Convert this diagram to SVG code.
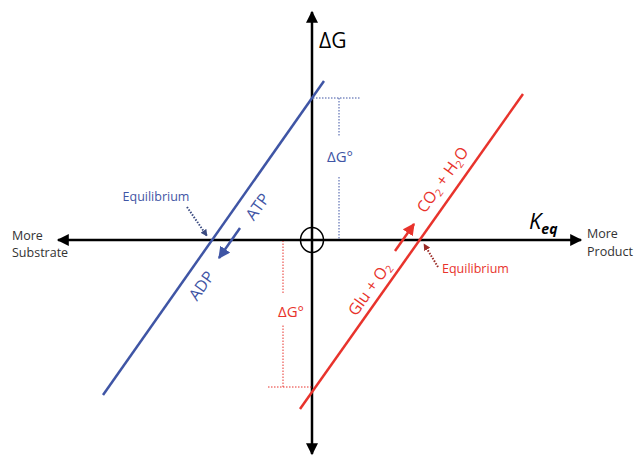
<svg xmlns="http://www.w3.org/2000/svg" width="636" height="456" viewBox="0 0 636 456">
<defs>
<marker id="axh" viewBox="0 0 10 10" refX="9" refY="5" markerWidth="14" markerHeight="12" markerUnits="userSpaceOnUse" orient="auto"><path d="M0,0 L10,5 L0,10 z" fill="#000"/></marker>
<marker id="bh" viewBox="0 0 10 10" refX="9" refY="5" markerWidth="12" markerHeight="12" markerUnits="userSpaceOnUse" orient="auto"><path d="M0,0 L10,5 L0,10 z" fill="#3f55a5"/></marker>
<marker id="rh" viewBox="0 0 10 10" refX="9" refY="5" markerWidth="12" markerHeight="12" markerUnits="userSpaceOnUse" orient="auto"><path d="M0,0 L10,5 L0,10 z" fill="#e8332c"/></marker>
<marker id="bdh" viewBox="0 0 10 10" refX="9" refY="5" markerWidth="7" markerHeight="7" markerUnits="userSpaceOnUse" orient="auto"><path d="M0,0 L10,5 L0,10 z" fill="#3a4a80"/></marker>
<marker id="rdh" viewBox="0 0 10 10" refX="9" refY="5" markerWidth="7" markerHeight="7" markerUnits="userSpaceOnUse" orient="auto"><path d="M0,0 L10,5 L0,10 z" fill="#9a2a25"/></marker>
</defs>
<style>
text{font-family:"Open Sans","Liberation Sans",sans-serif}
.ax{stroke:#000;stroke-width:2.5;fill:none}
.blue{stroke:#3f55a5;stroke-width:2.5;fill:none}
.red{stroke:#e8332c;stroke-width:2.5;fill:none}
.bdot{stroke:#3f55a5;stroke-width:1;stroke-dasharray:1.5 1.5;fill:none}
.rdot{stroke:#e8332c;stroke-width:1;stroke-dasharray:1.5 1.5;fill:none}
.bt{fill:#3f55a5}
.rt{fill:#e8332c}
.lbl{fill:#333;font-size:12.5px}
</style>
<g id="connectors">
<line class="ax" x1="312" y1="240" x2="312" y2="12" marker-end="url(#axh)"/>
<line class="ax" x1="312" y1="240" x2="312" y2="454" marker-end="url(#axh)"/>
<line class="ax" x1="312" y1="240" x2="581" y2="240" marker-end="url(#axh)"/>
<line class="ax" x1="312" y1="240" x2="58" y2="240" marker-end="url(#axh)"/>
<line class="blue" x1="103" y1="395" x2="324" y2="81"/>
<line class="red" x1="300" y1="409" x2="523" y2="94"/>
<line class="blue" x1="240" y1="228" x2="219" y2="258" marker-end="url(#bh)"/>
<line class="red" x1="395" y1="251" x2="414" y2="224" marker-end="url(#rh)"/>
<line stroke="#3a4a80" stroke-width="2" stroke-dasharray="1.5 1.5" x1="187" y1="207" x2="207" y2="236" marker-end="url(#bdh)"/>
<line stroke="#9a2a25" stroke-width="2" stroke-dasharray="1.5 1.5" x1="438" y1="267" x2="424" y2="244" marker-end="url(#rdh)"/>
<path class="bdot" d="M313,98 H360 M339,98 V137 M339,177 V240"/>
<path class="rdot" d="M268,387 H312 M283,387 V325 M283,293 V241"/>
</g>
<g id="origin"><ellipse cx="312" cy="240" rx="11.5" ry="12.5" fill="none" stroke="#000" stroke-width="1.5"/></g>
<g id="dg-axis"><text x="319" y="48" font-size="21" fill="#000">ΔG</text></g>
<g id="keq"><text x="529" y="229" font-size="22" font-style="italic" fill="#000">K<tspan font-size="14" font-weight="bold" dy="5">eq</tspan></text></g>
<g id="more-substrate"><text class="lbl" x="12" y="240">More</text><text class="lbl" x="12" y="257">Substrate</text></g>
<g id="more-product"><text class="lbl" x="587" y="238">More</text><text class="lbl" x="587" y="256">Product</text></g>
<g id="blue-dg"><text class="bt" x="340" y="162" font-size="15" text-anchor="middle">ΔG°</text></g>
<g id="red-dg"><text class="rt" x="291" y="317" font-size="15" text-anchor="middle">ΔG°</text></g>
<g id="blue-eq"><text class="bt" x="156" y="201" font-size="12.5" text-anchor="middle">Equilibrium</text></g>
<g id="red-eq"><text class="rt" x="442" y="273" font-size="12.5">Equilibrium</text></g>
<g id="atp"><text class="bt" font-size="16" text-anchor="middle" transform="translate(258,207) rotate(-54.2)" y="5">ATP</text></g>
<g id="adp"><text class="bt" font-size="16" text-anchor="middle" transform="translate(202,286) rotate(-54.2)" y="5">ADP</text></g>
<g id="co2"><text class="rt" font-size="16" text-anchor="middle" transform="translate(443,180) rotate(-54.5)" y="5">CO<tspan font-size="10.5" dy="3">2</tspan><tspan dy="-3"> + H</tspan><tspan font-size="10.5" dy="3">2</tspan><tspan dy="-3">O</tspan></text></g>
<g id="glu"><text class="rt" font-size="16" text-anchor="middle" transform="translate(370,289) rotate(-54.5)" y="5">Glu + O<tspan font-size="10.5" dy="3">2</tspan></text></g>
</svg>
